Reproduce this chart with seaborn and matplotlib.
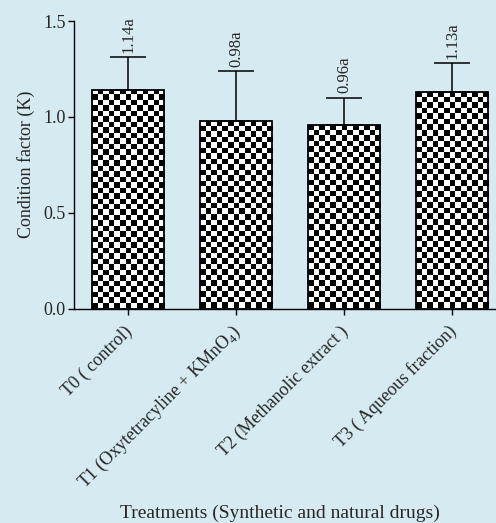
import numpy as np
import pandas as pd
import matplotlib
matplotlib.use("Agg")
import matplotlib.pyplot as plt
import matplotlib.transforms as mtransforms
import seaborn as sns

categories = ["T0 ( control)", "T1 (Oxytetracyline + KMnO$_4$)",
              "T2 (Methanolic extract )", "T3 ( Aqueous fraction)"]
means = [1.14, 0.98, 0.96, 1.13]
errors = [0.17, 0.26, 0.14, 0.15]
labels = ["1.14a", "0.98a", "0.96a", "1.13a"]
yticks = [0.0, 0.5, 1.0, 1.5]

bg = "#d6ebf1"
sns.set_theme(style="ticks")
plt.rcParams["font.family"] = ["Liberation Serif", "DejaVu Serif"]
plt.rcParams["mathtext.fontset"] = "custom"
plt.rcParams["mathtext.rm"] = "Liberation Serif"

W, H, DPI = 496, 523, 100
fig = plt.figure(figsize=(W / DPI, H / DPI), dpi=DPI, facecolor=bg)
ax = fig.add_axes([74 / W, 1 - 308.5 / H, 432 / W, (308.5 - 21) / H])
ax.set_facecolor(bg)

df = pd.DataFrame({"cat": categories, "val": means})
sns.barplot(data=df, x="cat", y="val", width=0.667, color="white",
            edgecolor="black", linewidth=1.3, errorbar=None, ax=ax, zorder=3)
ax.set_xlim(-0.5, 3.5)
ax.set_ylim(0, 1.5)

# checkerboard fill clipped to each bar
fig.canvas.draw()
cell = 5.5
for p in ax.patches:
    bb = p.get_bbox()
    (x0, y0), (x1, y1) = ax.transData.transform([(bb.x0, bb.y0), (bb.x1, bb.y1)])
    nx = max(1, int(round(abs(x1 - x0) / cell)))
    ny = max(1, int(round(abs(y1 - y0) / cell)))
    board = (np.add.outer(np.arange(ny), np.arange(nx)) % 2).astype(float)
    im = ax.imshow(board, cmap="gray", extent=(bb.x0, bb.x1, bb.y0, bb.y1),
                   origin="lower", interpolation="nearest", aspect="auto",
                   zorder=2.5, vmin=0, vmax=1)
    im.set_clip_path(p)
    p.set_facecolor("none")

ax.set_xlim(-0.5, 3.5)
ax.set_ylim(0, 1.5)

xs = np.arange(len(means))
ax.errorbar(xs, means, yerr=[np.zeros(len(errors)), errors], fmt="none",
            ecolor="black", elinewidth=1.1, capsize=13, capthick=1.1, zorder=4)

for x, m, e, t in zip(xs, means, errors, labels):
    ax.annotate(t, (x, m + e), xytext=(0, 3), textcoords="offset points",
                rotation=90, ha="center", va="bottom", fontsize=12)

ax.set_yticks(yticks)
ax.set_yticklabels([f"{v:.1f}" for v in yticks])
ax.tick_params(axis="both", labelsize=13, length=4, width=1.0, color="black",
               direction="out", pad=2)
ax.tick_params(axis="x", pad=10.5)
plt.setp(ax.get_xticklabels(), rotation=45, ha="right", va="center",
         rotation_mode="anchor")
shift = mtransforms.ScaledTranslation(2 / DPI, 0, fig.dpi_scale_trans)
for lbl in ax.get_xticklabels():
    lbl.set_transform(lbl.get_transform() + shift)

sns.despine(ax=ax)
for s in ["left", "bottom"]:
    ax.spines[s].set_linewidth(1.0)
    ax.spines[s].set_color("black")

ax.set_ylabel("Condition factor (K)", fontsize=13, labelpad=6)
ax.set_xlabel("")
fig.text(280 / W, 1 - 513 / H, "Treatments (Synthetic and natural drugs)",
         ha="center", va="center", fontsize=14)

fig.savefig("out.png", dpi=DPI, facecolor=bg)
